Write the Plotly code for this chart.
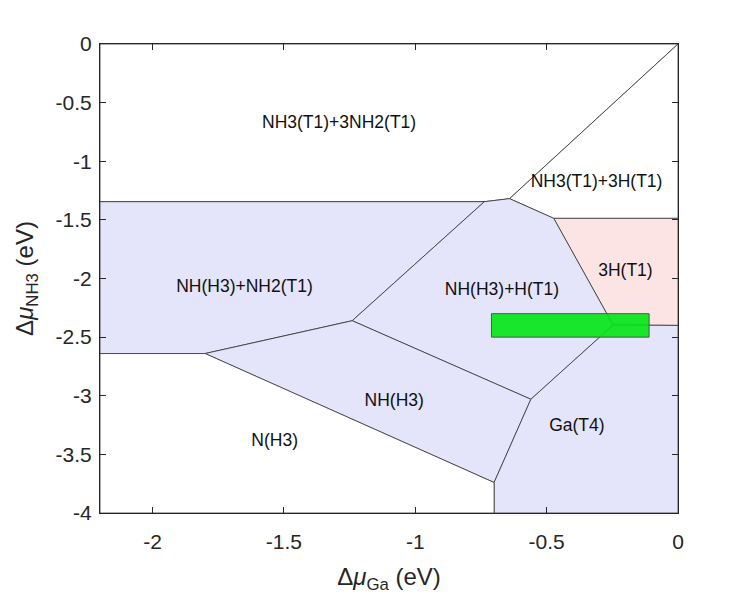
import plotly.graph_objects as go

# phase regions (delta mu_Ga, delta mu_NH3) vertices
region_names = ['NH3(T1)+3NH2(T1)', 'NH3(T1)+3H(T1)', '3H(T1)', 'NH(H3)+NH2(T1)',
                'NH(H3)+H(T1)', 'NH(H3)', 'Ga(T4)', 'N(H3)']
region_x = [
    [-2.2, 0, -0.641, -0.737, -2.2],
    [0, 0, -0.473, -0.641],
    [-0.473, 0, 0, -0.247],
    [-2.2, -0.737, -1.24, -1.80, -2.2],
    [-0.737, -0.641, -0.473, -0.247, -0.56, -1.24],
    [-1.80, -1.24, -0.56, -0.70],
    [-0.247, 0, 0, -0.70, -0.70, -0.56],
    [-2.2, -1.80, -0.70, -0.70, -2.2],
]
region_y = [
    [0, 0, -1.319, -1.345, -1.345],
    [0, -1.487, -1.487, -1.319],
    [-1.487, -1.487, -2.40, -2.397],
    [-1.345, -1.345, -2.36, -2.64, -2.64],
    [-1.345, -1.319, -1.487, -2.397, -3.03, -2.36],
    [-2.64, -2.36, -3.03, -3.74],
    [-2.397, -2.40, -4, -4, -3.74, -3.03],
    [-2.64, -2.64, -3.74, -4, -4],
]
region_colors = ['#ffffff', '#ffffff', '#fde4e4', '#e4e4fa',
                 '#e4e4fa', '#e4e4fa', '#e4e4fa', '#ffffff']
label_x = [-1.29, -0.31, -0.20, -1.65, -0.67, -1.08, -0.385, -1.535]
label_y = [-0.68, -1.185, -1.945, -2.08, -2.10, -3.05, -3.26, -3.395]

# highlighted window
box_x = [-0.71, -0.11]
box_y = [-2.5, -2.3]

fig = go.Figure()

for xs, ys, col in zip(region_x, region_y, region_colors):
    fig.add_trace(go.Scatter(x=xs + [xs[0]], y=ys + [ys[0]], fill='toself',
                             fillcolor=col, mode='lines',
                             line=dict(color='#333333', width=0.8),
                             hoverinfo='skip', showlegend=False))

fig.add_trace(go.Scatter(x=[box_x[0], box_x[1], box_x[1], box_x[0], box_x[0]],
                         y=[box_y[0], box_y[0], box_y[1], box_y[1], box_y[0]],
                         fill='toself', fillcolor='rgba(0,230,20,0.9)', mode='lines',
                         line=dict(color='#555555', width=1), showlegend=False))

fig.add_trace(go.Scatter(x=label_x, y=label_y, text=region_names, mode='text',
                         textfont=dict(size=17.5, color='#111111',
                                       family='Liberation Sans, Arial'),
                         showlegend=False))

axis_style = dict(showline=True, linecolor='#262626', linewidth=1.2, mirror='ticks',
                  ticks='inside', ticklen=6, tickcolor='#262626', showgrid=False,
                  zeroline=False, automargin=False,
                  tickfont=dict(size=21, color='#262626'))

fig.update_xaxes(range=[-2.2, 0], tickvals=[-2, -1.5, -1, -0.5, 0],
                 ticktext=['-2', '-1.5', '-1', '-0.5', '0'], ticklabelstandoff=10,
                 title=dict(text='Δ<i>μ</i><sub>Ga</sub> (eV)', font=dict(size=24, color='#262626')),
                 **axis_style)
fig.update_yaxes(range=[-4, 0], tickvals=[0, -0.5, -1, -1.5, -2, -2.5, -3, -3.5, -4],
                 ticktext=['0', '-0.5', '-1', '-1.5', '-2', '-2.5', '-3', '-3.5', '-4'],
                 ticklabelstandoff=3,
                 title=dict(text='Δ<i>μ</i><sub>NH3</sub> (eV)', font=dict(size=24, color='#262626')),
                 **axis_style)

fig.update_layout(width=747, height=598, plot_bgcolor='white', paper_bgcolor='white',
                  font=dict(family='Liberation Sans, Arial', color='#262626'),
                  margin=dict(l=92, r=77, t=36, b=93))

fig.write_html("out.html")
